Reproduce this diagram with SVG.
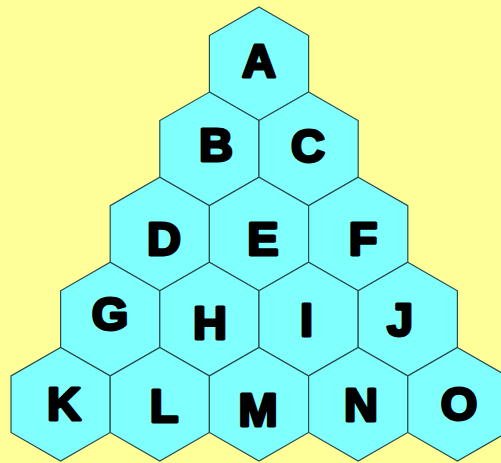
<svg xmlns="http://www.w3.org/2000/svg" xmlns:xlink="http://www.w3.org/1999/xlink" width="501" height="463" viewBox="0 0 501 463">
<style>
.hex{fill:#80ffff;stroke:#2a4a4a;stroke-width:1.2;stroke-linejoin:miter}
.lbl{font-family:"Liberation Sans",Arial,sans-serif;font-weight:bold;font-size:47px;fill:#000;stroke:#000;stroke-width:3;stroke-linejoin:round;text-anchor:middle}
</style>
<defs>
<polygon id="hx" points="0,0 49.6,28.5 49.6,85.1 0,113.6 -49.6,85.1 -49.6,28.5"/>
</defs>
<rect width="501" height="463" fill="#ffff99"/>
<g id="A"><use xlink:href="#hx" class="hex" x="259" y="7"/><text class="lbl" x="259" y="77">A</text></g>
<g id="B"><use xlink:href="#hx" class="hex" x="209.4" y="92.1"/><text class="lbl" x="216" y="161">B</text></g>
<g id="C"><use xlink:href="#hx" class="hex" x="308.6" y="92.1"/><text class="lbl" x="308" y="162">C</text></g>
<g id="D"><use xlink:href="#hx" class="hex" x="159.8" y="177.2"/><text class="lbl" x="164" y="255">D</text></g>
<g id="E"><use xlink:href="#hx" class="hex" x="259" y="177.2"/><text class="lbl" x="263" y="255">E</text></g>
<g id="F"><use xlink:href="#hx" class="hex" x="358.2" y="177.2"/><text class="lbl" x="363" y="255">F</text></g>
<g id="G"><use xlink:href="#hx" class="hex" x="110.2" y="262.3"/><text class="lbl" x="110" y="330">G</text></g>
<g id="H"><use xlink:href="#hx" class="hex" x="209.4" y="262.3"/><text class="lbl" x="210" y="339">H</text></g>
<g id="I"><use xlink:href="#hx" class="hex" x="308.6" y="262.3"/><text class="lbl" x="306.5" y="336">I</text></g>
<g id="J"><use xlink:href="#hx" class="hex" x="407.8" y="262.3"/><text class="lbl" x="400" y="336">J</text></g>
<g id="K"><use xlink:href="#hx" class="hex" x="60.6" y="347.4"/><text class="lbl" x="64" y="420">K</text></g>
<g id="L"><use xlink:href="#hx" class="hex" x="159.8" y="347.4"/><text class="lbl" x="164" y="422">L</text></g>
<g id="M"><use xlink:href="#hx" class="hex" x="259" y="347.4"/><text class="lbl" x="258" y="426">M</text></g>
<g id="N"><use xlink:href="#hx" class="hex" x="358.2" y="347.4"/><text class="lbl" x="361" y="421">N</text></g>
<g id="O"><use xlink:href="#hx" class="hex" x="457.4" y="347.4"/><text class="lbl" x="459" y="420">O</text></g>
<g id="connectors"></g>
</svg>
